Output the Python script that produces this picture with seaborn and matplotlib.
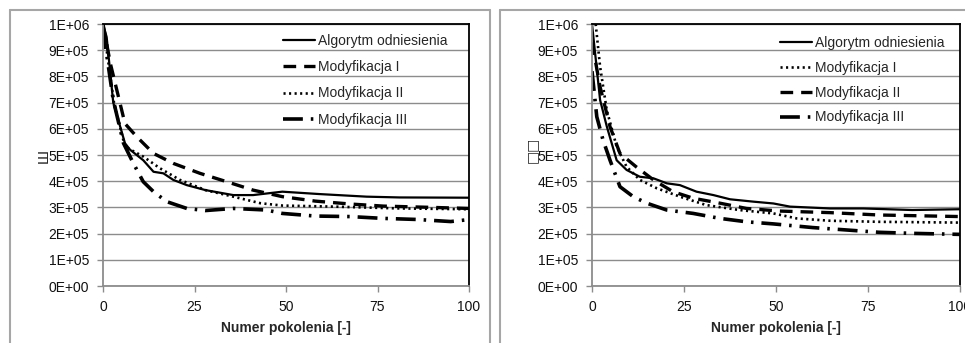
import matplotlib
matplotlib.use("Agg")
import matplotlib.pyplot as plt
import seaborn as sns
import pandas as pd
from matplotlib.lines import Line2D

# ---------------- data ----------------
x_ticks = [0, 25, 50, 75, 100]
y_ticks = [i * 100000 for i in range(11)]
y_tick_labels = ["0E+00", "1E+05", "2E+05", "3E+05", "4E+05", "5E+05",
                 "6E+05", "7E+05", "8E+05", "9E+05", "1E+06"]
xlabel = "Numer pokolenia [-]"

# Left panel
L_ref_x = [0, 1, 2.8, 6, 7.4, 11, 13.8, 16.5, 19.2, 22.9, 28, 35.6, 41, 46.5, 49, 59, 72, 81, 100]
L_ref_y = [1.0e6, 0.95e6, 0.70e6, 0.545e6, 0.52e6, 0.48e6, 0.436e6, 0.43e6, 0.405e6, 0.385e6,
           0.366e6, 0.347e6, 0.347e6, 0.356e6, 0.36e6, 0.351e6, 0.341e6, 0.338e6, 0.337e6]
L_m1_x = [0, 2, 6, 9.2, 13.8, 19.2, 26.5, 33.8, 41, 49, 58, 67.5, 76.6, 90, 100]
L_m1_y = [1.0e6, 0.85e6, 0.62e6, 0.57e6, 0.506e6, 0.468e6, 0.43e6, 0.398e6, 0.366e6,
          0.341e6, 0.324e6, 0.313e6, 0.305e6, 0.30e6, 0.296e6]
L_m2_x = [0, 3, 6, 11, 15.6, 21, 28, 35.6, 43, 49, 63, 81, 100]
L_m2_y = [1.0e6, 0.70e6, 0.532e6, 0.494e6, 0.449e6, 0.405e6, 0.366e6, 0.341e6, 0.316e6,
          0.307e6, 0.303e6, 0.296e6, 0.293e6]
L_m3_x = [0, 2.8, 5.6, 8.3, 11, 13.8, 17.4, 22.9, 28, 35.6, 44.7, 49, 58, 67.5, 76.6, 85.7, 95, 99]
L_m3_y = [0.98e6, 0.71e6, 0.545e6, 0.468e6, 0.398e6, 0.36e6, 0.322e6, 0.296e6, 0.288e6,
          0.296e6, 0.29e6, 0.277e6, 0.267e6, 0.265e6, 0.258e6, 0.254e6, 0.246e6, 0.252e6]

# Right panel
R_ref_x = [0, 2.2, 4, 6.7, 9.4, 13, 16.7, 20.3, 23.9, 28.4, 33, 37.5, 43.8, 49.3, 53.8, 64.7, 73.7, 87, 100]
R_ref_y = [1.0e6, 0.71e6, 0.61e6, 0.48e6, 0.443e6, 0.417e6, 0.411e6, 0.392e6, 0.385e6, 0.36e6,
           0.347e6, 0.331e6, 0.322e6, 0.315e6, 0.303e6, 0.296e6, 0.296e6, 0.29e6, 0.293e6]
R_m1_x = [1, 2.2, 4, 6.7, 9.4, 13, 17.6, 23.9, 31, 40, 49.3, 55.6, 64.7, 78, 100]
R_m1_y = [1.0e6, 0.837e6, 0.672e6, 0.532e6, 0.455e6, 0.405e6, 0.373e6, 0.341e6, 0.309e6,
          0.29e6, 0.277e6, 0.258e6, 0.249e6, 0.245e6, 0.242e6]
R_m2_x = [0, 2.2, 4.9, 7.6, 12, 16.7, 22, 27.5, 34.8, 42, 51, 64.7, 78, 100]
R_m2_y = [0.93e6, 0.76e6, 0.608e6, 0.506e6, 0.455e6, 0.405e6, 0.36e6, 0.335e6, 0.316e6,
          0.296e6, 0.286e6, 0.28e6, 0.271e6, 0.265e6]
R_m3_x = [0, 1.3, 3, 4.9, 7.6, 11.2, 14.9, 20.3, 27.5, 34.8, 42, 49.3, 60, 69, 78, 87, 100]
R_m3_y = [0.82e6, 0.646e6, 0.557e6, 0.48e6, 0.379e6, 0.341e6, 0.316e6, 0.29e6, 0.277e6,
          0.258e6, 0.245e6, 0.237e6, 0.223e6, 0.214e6, 0.205e6, 0.201e6, 0.197e6]

L_labels = ["Algorytm odniesienia", "Modyfikacja I", "Modyfikacja II", "Modyfikacja III"]
R_labels = ["Algorytm odniesienia", "Modyfikacja I", "Modyfikacja II", "Modyfikacja III"]

# ---------------- style ----------------
sns.set_theme(style="white")
plt.rcParams["font.family"] = ["Liberation Sans", "DejaVu Sans"]
plt.rcParams["font.size"] = 10

W, H = 965, 343
fig = plt.figure(figsize=(W / 100, H / 100), dpi=100)

def fx(px):
    return px / W

def fy(py):
    return 1 - py / H

SOLID = dict(linestyle="-", linewidth=1.6)
DASHED = dict(linestyle=(0, (3.8, 2.4)), linewidth=2.4)
DOTTED = dict(linestyle=(0, (0.8, 1.3)), linewidth=1.9)
DASHDOT = dict(linestyle=(0, (5.5, 2.2, 0.7, 2.2)), linewidth=2.6)

def panel(left_px, right_px, series, legend_anchor_px, spacing):
    ax = fig.add_axes([fx(left_px), fy(286), fx(right_px - left_px), (286 - 24) / H])
    handles = []
    for (xs, ys, style, lab) in series:
        df = pd.DataFrame({"x": xs, "y": ys})
        sns.lineplot(data=df, x="x", y="y", ax=ax, color="black", estimator=None,
                     sort=False, **style)
        handles.append(Line2D([], [], color="black", label=lab, **style))
    ax.set_xlim(0, 100)
    ax.set_ylim(0, 1e6)
    ax.set_xticks(x_ticks)
    ax.set_xticklabels([str(t) for t in x_ticks])
    ax.set_yticks(y_ticks)
    ax.set_yticklabels(y_tick_labels)
    ax.grid(axis="y", color="#8c8c8c", linewidth=1.0)
    ax.grid(axis="x", visible=False)
    ax.set_axisbelow(True)
    for s in ["top", "right"]:
        ax.spines[s].set_color("black")
        ax.spines[s].set_linewidth(1.3)
    for s in ["left", "bottom"]:
        ax.spines[s].set_color("#8c8c8c")
        ax.spines[s].set_linewidth(1.3)
    ax.tick_params(axis="y", direction="out", length=4, width=1, color="#8c8c8c",
                   pad=6, labelsize=10, labelcolor="#111111", left=True)
    ax.tick_params(axis="x", direction="out", length=4, width=1, color="#8c8c8c",
                   pad=6, labelsize=10, labelcolor="#111111", bottom=True)
    ax.set_xlabel(xlabel, fontsize=10, fontweight="bold", labelpad=5)
    ax.set_ylabel("")
    ax.legend(handles=handles, loc="upper left",
              bbox_to_anchor=(fx(legend_anchor_px[0]), fy(legend_anchor_px[1])),
              bbox_transform=fig.transFigure, frameon=False, fontsize=10,
              handlelength=2.3, handletextpad=0.2, labelspacing=spacing,
              borderpad=0, borderaxespad=0)
    return ax

panel(103, 469, [
    (L_ref_x, L_ref_y, SOLID, L_labels[0]),
    (L_m1_x, L_m1_y, DASHED, L_labels[1]),
    (L_m2_x, L_m2_y, DOTTED, L_labels[2]),
    (L_m3_x, L_m3_y, DASHDOT, L_labels[3]),
], (283, 34), 0.88)

panel(592, 960, [
    (R_ref_x, R_ref_y, SOLID, R_labels[0]),
    (R_m1_x, R_m1_y, DOTTED, R_labels[1]),
    (R_m2_x, R_m2_y, DASHED, R_labels[2]),
    (R_m3_x, R_m3_y, DASHDOT, R_labels[3]),
], (780, 36), 0.78)

# outer chart frames
frame_c = "#a6a6a6"
for (x0, x1) in [(10, 490), (500, 968)]:
    fig.add_artist(Line2D([fx(x0), fx(x1)], [fy(10), fy(10)], color=frame_c, lw=1.5,
                          transform=fig.transFigure))
    fig.add_artist(Line2D([fx(x0), fx(x0)], [fy(10), fy(345)], color=frame_c, lw=1.5,
                          transform=fig.transFigure))
fig.add_artist(Line2D([fx(490), fx(490)], [fy(10), fy(345)], color=frame_c, lw=1.5,
                      transform=fig.transFigure))

# garbled y-axis label glyphs as in the reference
fig.text(fx(44), fy(156), "Ш", rotation=90, ha="center", va="center", fontsize=11)
fig.text(fx(532), fy(150), "□□", rotation=90, ha="center", va="center", fontsize=10,
         family=["DejaVu Sans"])

fig.savefig("out.png", dpi=100)
